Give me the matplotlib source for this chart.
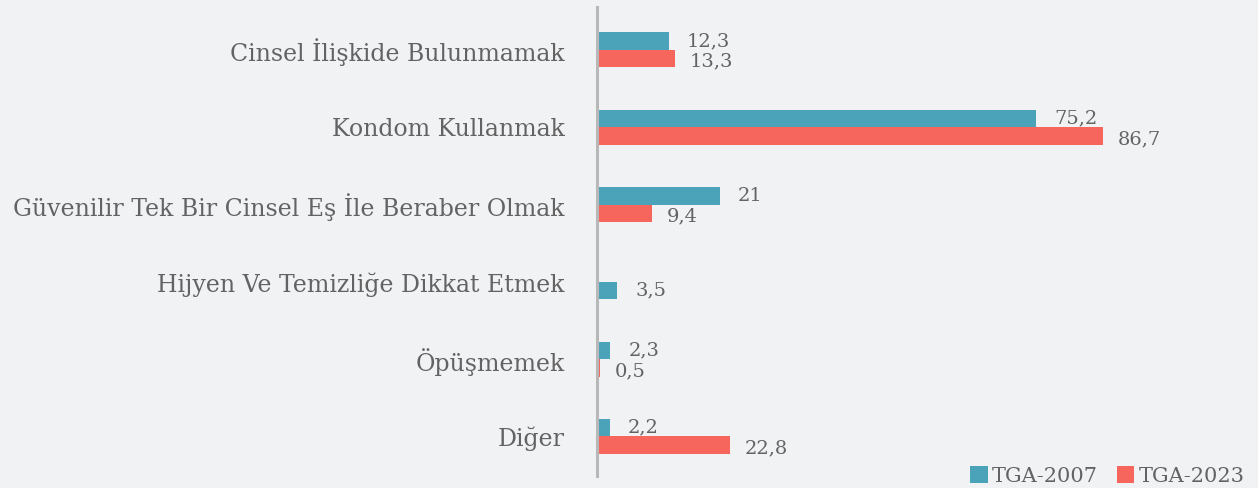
import numpy as np
import matplotlib.pyplot as plt

# Cinsel yolla bulaşan enfeksiyonlardan korunma yolları (%)
categories = [
    "Cinsel İlişkide Bulunmamak",
    "Kondom Kullanmak",
    "Güvenilir Tek Bir Cinsel Eş İle Beraber Olmak",
    "Hijyen Ve Temizliğe Dikkat Etmek",
    "Öpüşmemek",
    "Diğer",
]
tga_2007 = [12.3, 75.2, 21.0, 3.5, 2.3, 2.2]
tga_2023 = [13.3, 86.7, 9.4, np.nan, 0.5, 22.8]
series_names = ["TGA-2007", "TGA-2023"]

bg = "#f1f2f4"
c07 = "#4aa3b8"
c23 = "#f7665c"
txt = "#636363"
plt.rcParams["font.family"] = ["DejaVu Serif"]

fig = plt.figure(figsize=(12.58, 4.88), dpi=100, facecolor=bg)
ax = fig.add_axes([0.4745, 0.0246, 0.5255, 0.9611], facecolor=bg)

y = np.arange(len(categories))
h = 0.226
v07 = np.array(tga_2007)
v23 = np.array(tga_2023)

# 2007 bar sits in the upper slot; if 2023 is missing it drops to the lower one
pos07 = np.where(np.isnan(v23), y + h / 2, y - h / 2)
pos23 = y + h / 2

ax.barh(pos07, v07, height=h, color=c07, label=series_names[0])
ax.barh(pos23, np.nan_to_num(v23), height=h, color=c23, label=series_names[1])


def fmt(v):
    return f"{v:g}".replace(".", ",")


for p, v in zip(pos07, v07):
    ax.annotate(fmt(v), (v, p), xytext=(18, 0), textcoords="offset pixels",
                ha="left", va="center", fontsize=14, color=txt)
for p, v in zip(pos23, v23):
    if np.isnan(v):
        continue
    ax.annotate(fmt(v), (v, p), xytext=(15, -3), textcoords="offset pixels",
                ha="left", va="center", fontsize=14, color=txt)

ax.set_xlim(0, 113.2)
ax.set_ylim(5.511, -0.556)
ax.set_yticks(y)
ax.set_yticklabels(categories, fontsize=17, color=txt)
ax.tick_params(axis="y", length=0, pad=23)
ax.set_xticks([])
for s in ["top", "right", "bottom"]:
    ax.spines[s].set_visible(False)
ax.spines["left"].set_color("#b8b8b8")
ax.spines["left"].set_linewidth(2.2)

leg = fig.legend(loc="lower right", bbox_to_anchor=(0.996, -0.012), ncol=2,
                 frameon=False, fontsize=15, handlelength=0.85, handleheight=0.85,
                 handletextpad=0.2, columnspacing=0.9, borderaxespad=0)
for t in leg.get_texts():
    t.set_color(txt)

fig.savefig("out.png", dpi=100, facecolor=bg)
